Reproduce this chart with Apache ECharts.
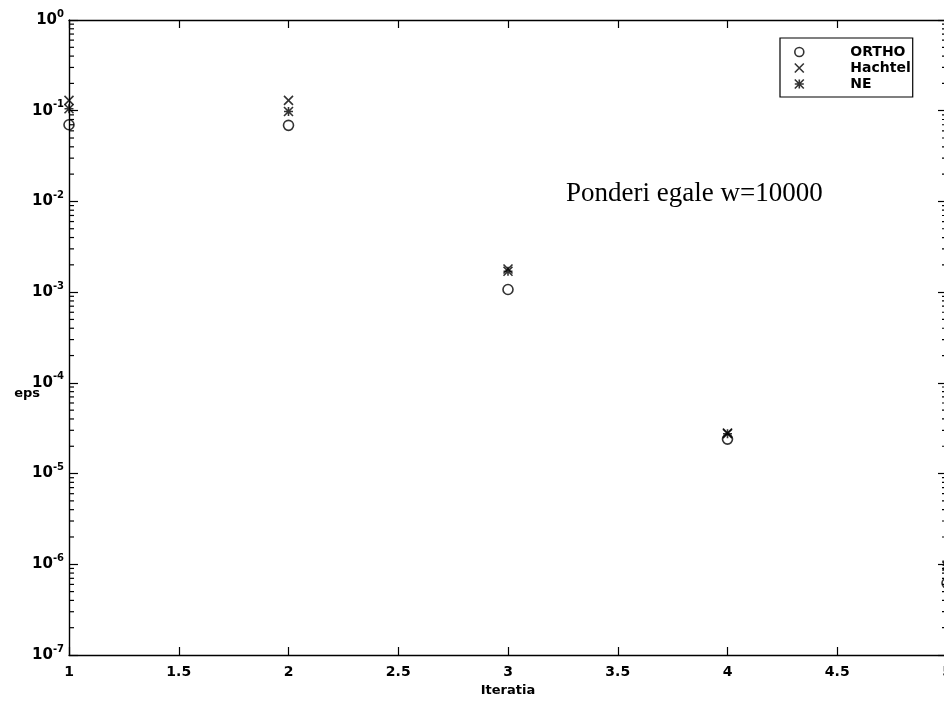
<!DOCTYPE html>
<html>
<head>
<meta charset="utf-8">
<script src="https://cdn.jsdelivr.net/npm/echarts@6/dist/echarts.min.js"></script>
<style>html,body{margin:0;padding:0;background:#fff}#chart{width:944px;height:702px}</style>
</head>
<body>
<div id="chart"></div>
<script>
// date (eroarea pe iteratie)
const iteratii = [1, 2, 3, 4, 5];
const epsOrtho = [0.07, 0.069, 0.00107, 2.4e-5, 6.2e-7];
const epsHachtel = [0.13, 0.13, 0.0018, 2.8e-5, 9.5e-7];
const epsNE = [0.105, 0.098, 0.0017, 2.75e-5, 9.8e-7];
const seriesNames = ['ORTHO', 'Hachtel', 'NE'];

const FONT = 'DejaVu Sans';
const SYM_X = 'path://M0,0L10,10M10,0L0,10';
const SYM_STAR = 'path://M0,0L10,10M10,0L0,10M5,0L5,10M0,5L10,5';

// subdiviziuni logaritmice (2..9 pe fiecare decada)
const minorTicks = [];
for (let e = -7; e < 0; e++) {
    for (let m = 2; m <= 9; m++) minorTicks.push(m * Math.pow(10, e));
}

const markStyle = { color: 'transparent', borderColor: '#000', borderWidth: 1.6 };

function pts(vals) {
    return iteratii.map((x, i) => [x, vals[i]]);
}

const chart = echarts.init(document.getElementById('chart'));
chart.setOption({
    animation: false,
    backgroundColor: '#fff',
    title: {
        text: 'Ponderi egale w=10000',
        left: 561, top: 175,
        textStyle: { fontFamily: 'Liberation Serif', fontSize: 27, fontWeight: 'normal', color: '#000' }
    },
    legend: {
        orient: 'vertical', left: 780, top: 38,
        padding: [7, 2, 6, 14],
        borderColor: '#000', borderWidth: 1.2, backgroundColor: '#fff',
        itemWidth: 14, itemHeight: 9, itemGap: 2,
        selectedMode: false,
        formatter: n => '{t|' + n + '}',
        textStyle: {
            color: '#000', fontFamily: FONT, fontSize: 14, fontWeight: 'bold',
            rich: { t: { padding: [0, 0, 0, 39], fontFamily: FONT, fontSize: 14, fontWeight: 'bold', lineHeight: 14, color: '#000' } }
        },
        data: [
            { name: 'ORTHO', icon: 'circle', itemStyle: markStyle },
            { name: 'Hachtel', icon: SYM_X, itemStyle: markStyle },
            { name: 'NE', icon: SYM_STAR, itemStyle: markStyle }
        ]
    },
    grid: { left: 69, top: 20, width: 878, height: 635, outerBoundsMode: 'none' },
    xAxis: [{
        type: 'value', min: 1, max: 5, interval: 0.5,
        name: 'Iteratia', nameLocation: 'middle', nameGap: 29, nameMoveOverlap: false,
        nameTextStyle: { fontFamily: FONT, fontSize: 13, fontWeight: 'bold', color: '#000' },
        axisLine: { lineStyle: { color: '#000', width: 1.4 } },
        axisTick: { inside: true, length: 8, lineStyle: { color: '#000', width: 1.2 } },
        axisLabel: { fontFamily: FONT, fontSize: 14, fontWeight: 'bold', color: '#000', margin: 10, showMaxLabel: true },
        splitLine: { show: false }
    }, {
        type: 'value', min: 1, max: 5, interval: 0.5, position: 'top',
        axisLine: { lineStyle: { color: '#000', width: 1.4 } },
        axisTick: { inside: true, length: 8, lineStyle: { color: '#000', width: 1.2 } },
        axisLabel: { show: false },
        splitLine: { show: false }
    }],
    yAxis: [{
        type: 'log', logBase: 10, min: 1e-7, max: 1, splitNumber: 7,
        name: 'eps', nameLocation: 'middle', nameGap: 29, nameRotate: 0, nameMoveOverlap: false,
        nameTextStyle: {
            fontFamily: FONT, fontSize: 13, fontWeight: 'bold', color: '#000',
            align: 'right', verticalAlign: 'top', padding: [50, 0, 0, 0]
        },
        axisLine: { lineStyle: { color: '#000', width: 1.4 } },
        axisTick: { inside: true, length: 9, lineStyle: { color: '#000', width: 1.2 } },
        axisLabel: {
            margin: 5,
            formatter: v => '{b|10}{s|' + Math.round(Math.log10(v)) + '}',
            rich: {
                b: { fontFamily: FONT, fontSize: 15, fontWeight: 'bold', color: '#000' },
                s: { fontFamily: FONT, fontSize: 10, fontWeight: 'bold', color: '#000', padding: [0, 0, 12, 0] }
            }
        },
        splitLine: { show: false }
    }, {
        type: 'log', logBase: 10, min: 1e-7, max: 1, splitNumber: 7, position: 'right',
        axisLine: { lineStyle: { color: '#000', width: 1.4 } },
        axisTick: { inside: true, length: 9, lineStyle: { color: '#000', width: 1.2 } },
        axisLabel: { show: false },
        splitLine: { show: false }
    }],
    series: [{
        type: 'custom',
        silent: true,
        clip: false,
        data: minorTicks.map(v => [1, v]),
        renderItem: function (params, api) {
            const v = api.value(1);
            const l = api.coord([1, v]);
            const r = api.coord([5, v]);
            const st = { stroke: '#000', lineWidth: 1.2 };
            return {
                type: 'group',
                children: [
                    { type: 'line', shape: { x1: l[0], y1: l[1], x2: l[0] + 5, y2: l[1] }, style: st },
                    { type: 'line', shape: { x1: r[0] - 5, y1: r[1], x2: r[0], y2: r[1] }, style: st }
                ]
            };
        }
    }, {
        name: seriesNames[0], type: 'scatter', symbol: 'circle', symbolSize: 10,
        itemStyle: markStyle, data: pts(epsOrtho)
    }, {
        name: seriesNames[1], type: 'scatter', symbol: SYM_X, symbolSize: 9,
        itemStyle: markStyle, data: pts(epsHachtel)
    }, {
        name: seriesNames[2], type: 'scatter', symbol: SYM_STAR, symbolSize: 9,
        itemStyle: markStyle, data: pts(epsNE)
    }]
});
</script>
</body>
</html>
